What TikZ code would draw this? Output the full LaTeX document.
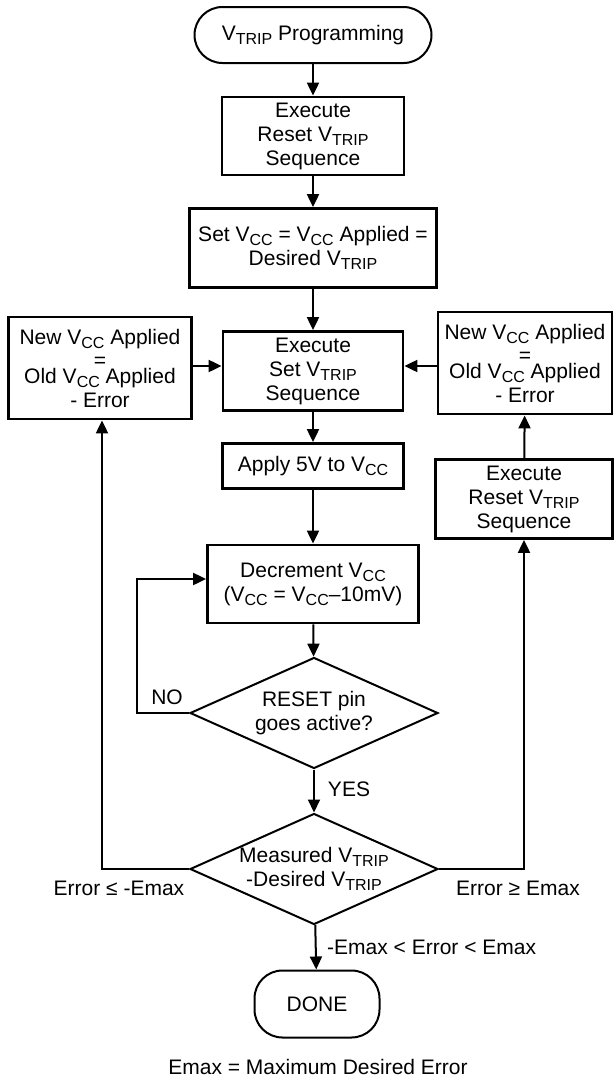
\documentclass[tikz,border=0pt]{standalone}
\usepackage{fontspec}
\setmainfont{Liberation Sans}
\usetikzlibrary{arrows.meta,shapes.geometric}
\newcommand{\vsub}[1]{\raisebox{-4pt}{\fontsize{16}{16}\selectfont #1}}
\newcommand{\flowfont}{\fontsize{21}{24}\selectfont}
\tikzset{
  flow/.style={draw, line width=2.8pt, align=center, inner sep=0pt, font=\flowfont},
  term/.style={draw, line width=2pt, rounded corners=28pt, align=center, inner sep=0pt, font=\flowfont},
  test/.style={draw, diamond, line width=2pt, inner sep=0pt, minimum width=248pt, minimum height=111pt},
  dtext/.style={align=center, font=\flowfont, inner sep=0pt},
  lbl/.style={font=\flowfont, inner sep=0pt},
  go/.style={line width=2pt, -{Triangle[length=13pt,width=12pt]}}
}
\begin{document}
\begin{tikzpicture}[x=1pt,y=-1pt]
  \useasboundingbox (0,0) rectangle (615,1082);
  \node[term, minimum width=237pt, minimum height=56pt] (start) at (313,35) {V\vsub{TRIP} Programming};
  \node[flow, minimum width=182pt, minimum height=78pt] (rst) at (313,136) {Execute\\Reset V\vsub{TRIP}\\Sequence};
  \node[flow, minimum width=247pt, minimum height=79pt] (setv) at (313,248) {Set V\vsub{CC} = V\vsub{CC} Applied =\\Desired V\vsub{TRIP}};
  \node[flow, minimum width=180pt, minimum height=79pt] (exset) at (313,371) {Execute\\Set V\vsub{TRIP}\\Sequence};
  \node[flow, minimum width=181pt, minimum height=45pt] (apply) at (313,466) {Apply 5V to V\vsub{CC}};
  \node[flow, minimum width=211pt, minimum height=78pt] (dec) at (313,584) {Decrement V\vsub{CC}\\(V\vsub{CC} = V\vsub{CC}–10mV)};
  \node[test, label={[dtext]center:{RESET pin\\goes active?}}] (q1) at (314,713) {};
  \node[test, label={[dtext]center:{Measured V\vsub{TRIP}\\-Desired V\vsub{TRIP}}}] (q2) at (314,869) {};
  \node[term, minimum width=125pt, minimum height=67pt] (done) at (317,1004) {DONE};
  \node[flow, minimum width=183pt, minimum height=102pt] (newl) at (100,368) {New V\vsub{CC} Applied\\[-1pt]=\\[-8pt]Old V\vsub{CC} Applied\\- Error};
  \node[flow, minimum width=174pt, minimum height=102pt] (newr) at (525,363) {New V\vsub{CC} Applied\\[-1pt]=\\[-8pt]Old V\vsub{CC} Applied\\- Error};
  \node[flow, minimum width=177pt, minimum height=79pt] (rstr) at (524,499) {Execute\\Reset V\vsub{TRIP}\\Sequence};
  \coordinate (noc) at (137,713);
  \coordinate (lowc) at (102,869);
  \coordinate (highc) at (524,869);
  \draw[go] (start) -- (rst);
  \draw[go] (rst) -- (setv);
  \draw[go] (setv) -- (exset);
  \draw[go] (exset) -- (apply);
  \draw[go] (apply) -- (dec);
  \draw[go] (dec) -- (q1);
  \draw[go] (q1) -- (q2);
  \draw[go] (q2) -- (done);
  \draw[go] (q1.west) -- (noc) |- ([yshift=5pt]dec.west);
  \draw[go] (q2.west) -- (lowc) -- (newl.south -| lowc);
  \draw[go] (q2.east) -- (highc) -- (rstr.south -| highc);
  \draw[go] (rstr) -- (newr);
  \draw[go] (newl.east |- 0,366) -- (exset.west |- 0,366);
  \draw[go] (newr.west |- 0,366) -- (exset.east |- 0,366);
  \node[lbl] (no) at (167,697) {NO};
  \node[lbl] (yes) at (349,789) {YES};
  \node[lbl] (low) at (119,888) {Error ≤ -Emax};
  \node[lbl] (high) at (518,888) {Error ≥ Emax};
  \node[lbl, anchor=west] (mid) at (327,947) {-Emax < Error < Emax};
  \node[lbl] (note) at (318,1067) {Emax = Maximum Desired Error};
\end{tikzpicture}
\end{document}
